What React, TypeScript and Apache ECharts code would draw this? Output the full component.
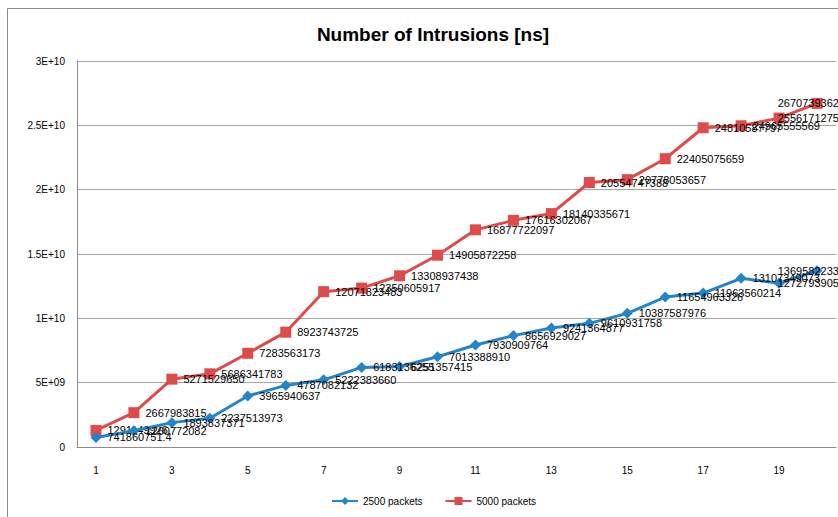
import React, { useEffect, useRef } from "react";
import * as echarts from "echarts";

const categories = ["1","2","3","4","5","6","7","8","9","10","11","12","13","14","15","16","17","18","19","20"];
const packets2500 = [741860751.4, 1260772082, 1893837371, 2237513973, 3965940637, 4787082132, 5222383660, 6183136255, 6251357415, 7013388910, 7930909764, 8656929027, 9241364877, 9610931758, 10387587976, 11654963326, 11963560214, 13107349073, 12727939050, 13695822335];
const packets5000 = [1291149926, 2667983815, 5271529650, 5686341783, 7283563173, 8923743725, 12071823483, 12350605917, 13308937438, 14905872258, 16877722097, 17616302067, 18140335671, 20554747388, 20778053657, 22405075659, 24810587797, 24965555569, 25561712750, 26707393628];
const yTickLabels: Record<string, string> = {
  "0": "0",
  "5000000000": "5E+09",
  "10000000000": "1E+10",
  "15000000000": "1.5E+10",
  "20000000000": "2E+10",
  "25000000000": "2.5E+10",
  "30000000000": "3E+10",
};

const FONT = "'Liberation Sans', Arial, sans-serif";

export default function App() {
  const ref = useRef<HTMLDivElement>(null);
  useEffect(() => {
    if (!ref.current) return;
    const chart = echarts.init(ref.current, null, { renderer: "svg" });
    const labelCfg = {
      show: true,
      position: "right" as const,
      distance: 6,
      fontSize: 11,
      fontFamily: FONT,
      color: "#000",
      formatter: (p: any) => String(p.value),
    };
    const edgeLayout = (params: any) => {
      if (params.dataIndex >= 18) {
        return {
          x: 845,
          y: params.rect.y + params.rect.height / 2,
          align: "right",
          verticalAlign: "middle",
        };
      }
      return {};
    };
    chart.setOption({
      animation: false,
      backgroundColor: "#fff",
      title: {
        text: "Number of Intrusions [ns]",
        left: 428,
        textAlign: "center",
        top: 20,
        textStyle: { fontSize: 19, fontWeight: "bold", fontFamily: FONT, color: "#000" },
      },
      graphic: [
        {
          type: "rect",
          shape: { x: 7.5, y: 8.5, width: 860, height: 540 },
          style: { fill: "none", stroke: "#8c8c8c", lineWidth: 1 },
          silent: true,
        },
      ],
      legend: {
        bottom: 6,
        left: 326,
        itemWidth: 26,
        itemHeight: 10,
        itemGap: 22,
        textStyle: { fontSize: 10, fontFamily: FONT, color: "#000" },
        data: ["2500 packets", "5000 packets"],
      },
      grid: { left: 77, right: 2, top: 61, bottom: 70 },
      xAxis: {
        type: "category",
        data: categories,
        boundaryGap: true,
        axisLine: { show: true, lineStyle: { color: "#8c8c8c", width: 1 } },
        axisTick: { show: false },
        axisLabel: { interval: 1, margin: 18, fontSize: 10, fontFamily: FONT, color: "#000" },
      },
      yAxis: {
        type: "value",
        min: 0,
        max: 30000000000,
        interval: 5000000000,
        axisLine: { show: true, lineStyle: { color: "#8c8c8c", width: 1 } },
        axisTick: { show: false },
        splitLine: { show: true, lineStyle: { color: "#a6a6a6", width: 1 } },
        axisLabel: {
          margin: 12,
          fontSize: 10,
          fontFamily: FONT,
          color: "#000",
          formatter: (v: number) => yTickLabels[String(v)] ?? String(v),
        },
      },
      series: [
        {
          name: "2500 packets",
          type: "line",
          data: packets2500,
          symbol: "diamond",
          symbolSize: 11,
          itemStyle: { color: "#2484c8" },
          lineStyle: { color: "#2484c8", width: 3 },
          label: labelCfg,
          labelLayout: edgeLayout,
          z: 3,
        },
        {
          name: "5000 packets",
          type: "line",
          data: packets5000,
          symbol: "rect",
          symbolSize: 11,
          itemStyle: { color: "#de4b4b" },
          lineStyle: { color: "#de4b4b", width: 3 },
          label: labelCfg,
          labelLayout: edgeLayout,
          z: 2,
        },
      ],
    });
    return () => chart.dispose();
  }, []);
  return (
    <div
      ref={ref}
      style={{ position: "fixed", left: 0, top: 0, width: 838, height: 517 }}
    />
  );
}
